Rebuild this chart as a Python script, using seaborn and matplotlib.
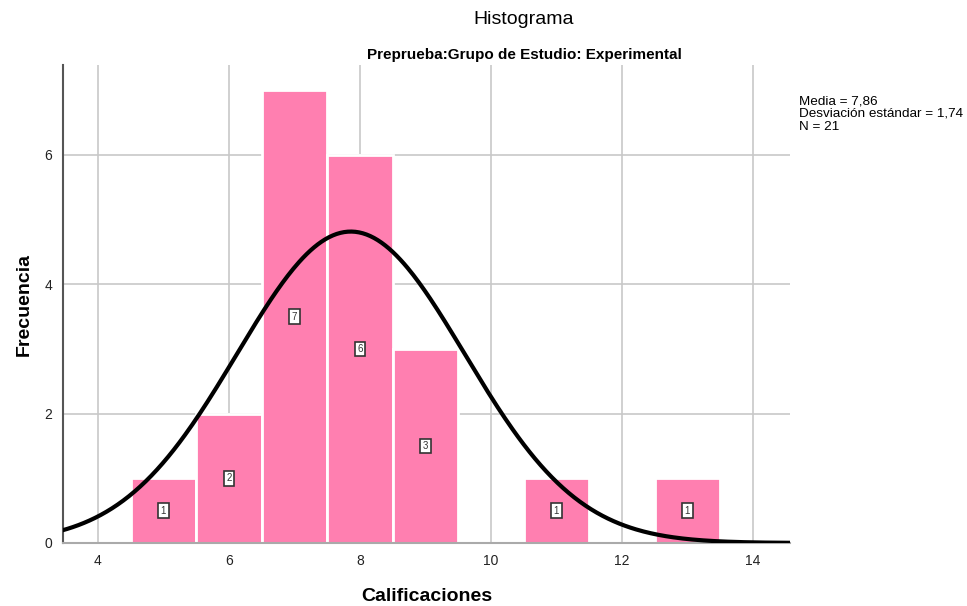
import numpy as np
import pandas as pd
import matplotlib
matplotlib.use("Agg")
import matplotlib.pyplot as plt
import seaborn as sns

# Data
scores = [5, 6, 7, 8, 9, 11, 13]
counts = [1, 2, 7, 6, 3, 1, 1]
mean_val = 7.86
sd_val = 1.74
n_val = 21
x_ticks = [4, 6, 8, 10, 12, 14]
y_ticks = [0, 2, 4, 6]

title = "Histograma"
subtitle = "Preprueba:Grupo de Estudio: Experimental"
xlabel = "Calificaciones"
ylabel = "Frecuencia"
stats_text = "Media = 7,86\nDesviación estándar = 1,74\nN = 21"

sns.set_style("white")
plt.rcParams['font.family'] = ['Arial', 'Liberation Sans', 'DejaVu Sans']
plt.rcParams['text.color'] = 'black'
plt.rcParams['axes.labelcolor'] = 'black'

fig = plt.figure(figsize=(9.67, 6.06), dpi=100)
ax = fig.add_axes([63/967, 1 - 543/606, (790-63)/967, (543-65)/606])

df = pd.DataFrame({"Calificaciones": np.repeat(scores, counts)})
sns.histplot(data=df, x="Calificaciones", discrete=True, ax=ax,
             color="#FF7FB0", alpha=1, edgecolor="white", linewidth=2, zorder=2)

xs = np.linspace(3.3, 14.7, 400)
ys = n_val * 1.0 * np.exp(-0.5 * ((xs - mean_val) / sd_val) ** 2) / (sd_val * np.sqrt(2 * np.pi))
sns.lineplot(x=xs, y=ys, ax=ax, color="black", linewidth=3, zorder=4)

for s, c in zip(scores, counts):
    ax.text(s, c / 2, str(c), ha="center", va="center", fontsize=7,
            color="#333333", zorder=5,
            bbox=dict(boxstyle="square,pad=0.25", facecolor="white", edgecolor="#333333", linewidth=1.2))

ax.set_xlim(3.466, 14.565)
ax.set_ylim(0, 7.39)
ax.set_xticks(x_ticks)
ax.set_yticks(y_ticks)
ax.set_xticklabels([str(t) for t in x_ticks])
ax.set_yticklabels([str(t) for t in y_ticks])
ax.grid(True, color="#c8c8c8", linewidth=1.2, zorder=0)
ax.set_axisbelow(True)
ax.tick_params(axis="both", length=0, labelsize=10, colors="#222222", pad=8)
for sp in ["top", "right"]:
    ax.spines[sp].set_visible(False)
ax.spines["left"].set_color("#555555")
ax.spines["left"].set_linewidth(1.5)
ax.spines["bottom"].set_color("#aaaaaa")
ax.spines["bottom"].set_linewidth(1.5)

ax.set_xlabel(xlabel, fontsize=14, fontweight="bold", labelpad=14)
ax.set_ylabel(ylabel, fontsize=14, fontweight="bold", labelpad=8)

fig.text(524/967, 1 - 19/606, title, ha="center", va="center", fontsize=14)
fig.text(524/967, 1 - 55/606, subtitle, ha="center", va="center", fontsize=11, fontweight="bold")
fig.text(799/967, 1 - 95/606, stats_text, ha="left", va="top", fontsize=9.7, linespacing=1.1)

fig.savefig("out.png", dpi=100)
